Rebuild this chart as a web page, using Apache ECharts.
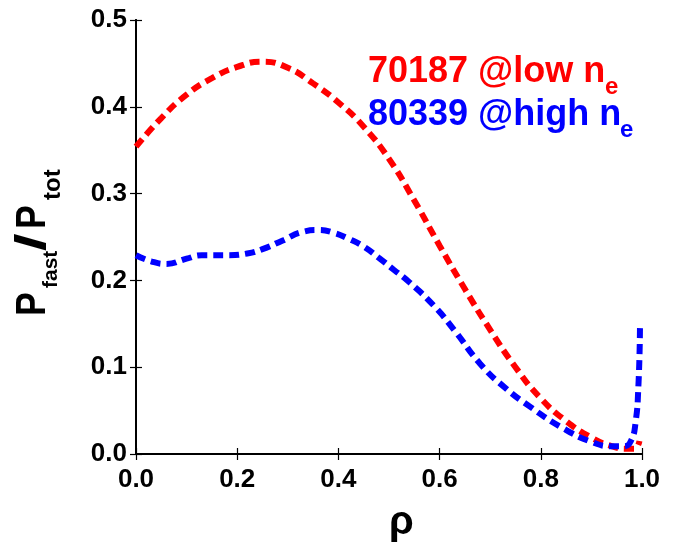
<!DOCTYPE html>
<html><head><meta charset="utf-8">
<script src="https://cdn.jsdelivr.net/npm/echarts@6/dist/echarts.min.js"></script>
<style>html,body{margin:0;padding:0;background:#fff}#c{width:679px;height:543px}</style>
</head><body><div id="c"></div>
<script>
var xTicks = [0.0, 0.2, 0.4, 0.6, 0.8, 1.0];
var yTicks = [0.0, 0.1, 0.2, 0.3, 0.4, 0.5];
var redRho = [0, 0.05, 0.1, 0.15, 0.2, 0.25, 0.3, 0.35, 0.4, 0.45, 0.5, 0.55, 0.6, 0.65, 0.7, 0.75, 0.8, 0.85, 0.9, 0.94, 0.97, 0.985, 0.995];
var redVal = [0.354, 0.387, 0.414, 0.433, 0.446, 0.452, 0.445, 0.427, 0.405, 0.377, 0.340, 0.292, 0.240, 0.190, 0.143, 0.100, 0.064, 0.038, 0.019, 0.009, 0.006, 0.006, 0.015];
var blueRho = [0, 0.03, 0.06, 0.1, 0.13, 0.18, 0.22, 0.25, 0.29, 0.33, 0.36, 0.39, 0.42, 0.45, 0.48, 0.51, 0.54, 0.59, 0.63, 0.68, 0.73, 0.78, 0.84, 0.9, 0.94, 0.965, 0.978, 0.987, 0.993, 0.996];
var blueVal = [0.229, 0.222, 0.219, 0.225, 0.229, 0.229, 0.231, 0.236, 0.246, 0.256, 0.258, 0.255, 0.248, 0.239, 0.226, 0.212, 0.198, 0.170, 0.142, 0.104, 0.076, 0.054, 0.031, 0.014, 0.009, 0.009, 0.015, 0.035, 0.080, 0.145];
var redLabel = ['70187 @low n', 'e'];
var blueLabel = ['80339 @high n', 'e'];

function pairs(xs, ys){ return xs.map(function(x,i){ return [x, ys[i]]; }); }
var FONT = '"Liberation Sans", Arial, sans-serif';
var chart = echarts.init(document.getElementById('c'), null, {renderer:'canvas'});
var axisLine = {show:true, lineStyle:{color:'#000', width:2}};
var ticks = {show:true, inside:true, length:6, lineStyle:{color:'#000', width:1.2}};
function lbl(show){ return {show:show, color:'#000', fontSize:26, fontWeight:'bold', fontFamily:FONT,
  formatter:function(v){ return v.toFixed(1); }}; }
var option = {
  animation:false,
  grid:{left:136, right:37, top:20, bottom:89},
  xAxis:[
    {type:'value', min:0, max:1, interval:0.2, position:'bottom', axisLine:axisLine, axisTick:ticks,
     axisLabel:Object.assign(lbl(true),{margin:13}), splitLine:{show:false}},
    {type:'value', min:0, max:1, interval:0.2, position:'top', axisLine:axisLine, axisTick:ticks,
     axisLabel:{show:false}, splitLine:{show:false}}
  ],
  yAxis:[
    {type:'value', min:0, max:0.5, interval:0.1, position:'left', axisLine:axisLine, axisTick:ticks,
     axisLabel:Object.assign(lbl(true),{margin:9}), splitLine:{show:false}},
    {type:'value', min:0, max:0.5, interval:0.1, position:'right', axisLine:axisLine, axisTick:ticks,
     axisLabel:{show:false}, splitLine:{show:false}}
  ],
  series:[
    {type:'line', data:pairs(redRho, redVal), showSymbol:false, smooth:0.5,
     lineStyle:{color:'#ff0000', width:6, type:[10,6], cap:'butt'}},
    {type:'line', data:pairs(blueRho, blueVal), showSymbol:false, smooth:0.5,
     lineStyle:{color:'#0000ff', width:6, type:[10,6], cap:'butt'}}
  ],
  graphic:[
    {type:'text', left:368, top:54, style:{text:redLabel[0], fill:'#ff0000', font:'bold 36px '+FONT}},
    {type:'text', left:605, top:75, style:{text:redLabel[1], fill:'#ff0000', font:'bold 24px '+FONT}},
    {type:'text', left:368, top:97, style:{text:blueLabel[0], fill:'#0000ff', font:'bold 36px '+FONT}},
    {type:'text', left:620, top:118, style:{text:blueLabel[1], fill:'#0000ff', font:'bold 24px '+FONT}},
    {type:'text', left:389, top:503, style:{text:'ρ', fill:'#000', font:'bold 40px '+FONT}},
    {type:'group', x:12, y:316, rotation:Math.PI/2, children:[
      {type:'text', x:0, y:0, scaleX:0.85, style:{text:'P', fill:'#000', font:'bold 42px '+FONT, textVerticalAlign:'top'}},
      {type:'text', x:28, y:29, style:{text:'fast', fill:'#000', font:'bold 21px '+FONT, textVerticalAlign:'top'}},
      {type:'text', x:65, y:0, scaleX:1.5, style:{text:'/', fill:'#000', font:'bold 42px '+FONT, textVerticalAlign:'top'}},
      {type:'text', x:87, y:0, scaleX:0.85, style:{text:'P', fill:'#000', font:'bold 42px '+FONT, textVerticalAlign:'top'}},
      {type:'text', x:116, y:29, style:{text:'tot', fill:'#000', font:'bold 24px '+FONT, textVerticalAlign:'top'}}
    ]}
  ]
};
chart.setOption(option);
</script></body></html>
